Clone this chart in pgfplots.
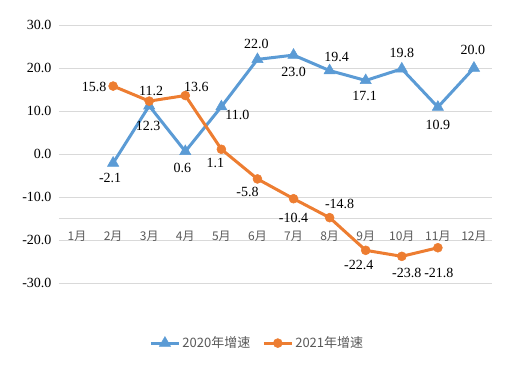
\documentclass[border=0pt]{standalone}
\usepackage{fontspec}
\setmainfont{Liberation Serif}
\newfontfamily\cjk{Noto Sans CJK SC}
\usepackage{pgfplots}
\usepackage{pgfplotstable}
\pgfplotsset{compat=1.18}
\definecolor{cblue}{HTML}{5B9BD5}
\definecolor{corange}{HTML}{ED7D31}
\definecolor{cgrid}{HTML}{D9D9D9}
\definecolor{ctext}{HTML}{595959}
\pgfplotstableread{
x y lbl dx dy
2 -2.1 -2.1 -3 -15
3 11.2 12.3 -1 -20
4 0.6 0.6 -3 -17
5 11.0 11.0 16 -8
6 22.0 22.0 -1 15
7 23.0 23.0 0 -17
8 19.4 19.4 7 14
9 17.1 17.1 -1 -16
10 19.8 19.8 0 16
11 10.9 10.9 0 -18
12 20.0 20.0 -1 18
}\tA
\pgfplotstableread{
x y lbl dx dy
2 15.8 15.8 -19 -1
3 12.3 11.2 2 10
4 13.6 13.6 11 9
5 1.1 1.1 -6 -14
6 -5.8 -5.8 -10 -13
7 -10.4 -10.4 0 -19
8 -14.8 -14.8 10 14
9 -22.4 -22.4 -7 -15
10 -23.8 -23.8 5 -17
11 -21.8 -21.8 1 -25
}\tB
\begin{document}
\begin{tikzpicture}
\useasboundingbox (-59pt,-95pt) rectangle (453pt,283pt);
\begin{axis}[at={(0,0)}, anchor=south west, scale only axis,
  width=433pt, height=258pt,
  xmin=0.5, xmax=12.5, ymin=-30, ymax=30,
  xtick={1,...,12},
  xticklabels={1月,2月,3月,4月,5月,6月,7月,8月,9月,10月,11月,12月},
  ytick={-30,-20,...,30},
  extra y ticks={-15}, extra y tick labels={},
  extra y tick style={grid=major},
  ymajorgrids, grid style={cgrid, line width=1pt},
  axis line style={draw=none}, major tick length=0pt,
  /pgf/number format/.cd, fixed, fixed zerofill, precision=1, assume math mode=true,
  /pgfplots/.cd,
  yticklabel style={font=\fontsize{14}{14}\selectfont, text=black, xshift=-4pt},
  xticklabel style={font=\cjk\fontsize{12}{12}\selectfont, text=ctext, yshift=55pt},
  legend style={at={(0.458,-0.233)}, anchor=center, draw=none, legend columns=2,
    font=\cjk\fontsize{13}{13}\selectfont, text=ctext,
    /tikz/every even column/.append style={column sep=10pt}},
  legend image code/.code={\draw[mark repeat=2,mark phase=2,#1] plot coordinates {(0pt,0pt)(14pt,0pt)(28pt,0pt)};},
  nodes near coords style={font=\fontsize{14}{14}\selectfont, text=black, anchor=center, xshift=\dx pt, yshift=\dy pt},
]
\addplot[cblue, line width=3pt, mark=triangle*, mark size=6.5pt,
  mark options={line width=0.5pt},
  point meta=explicit symbolic, nodes near coords,
  visualization depends on={\thisrow{dx}\as\dx},
  visualization depends on={\thisrow{dy}\as\dy}]
  table[x=x, y=y, meta=lbl] {\tA};
\addlegendentry{2020年增速}
\addplot[corange, line width=3pt, mark=*, mark size=4.5pt,
  mark options={line width=0.5pt},
  point meta=explicit symbolic, nodes near coords,
  visualization depends on={\thisrow{dx}\as\dx},
  visualization depends on={\thisrow{dy}\as\dy}]
  table[x=x, y=y, meta=lbl] {\tB};
\addlegendentry{2021年增速}
\end{axis}
\end{tikzpicture}
\end{document}
